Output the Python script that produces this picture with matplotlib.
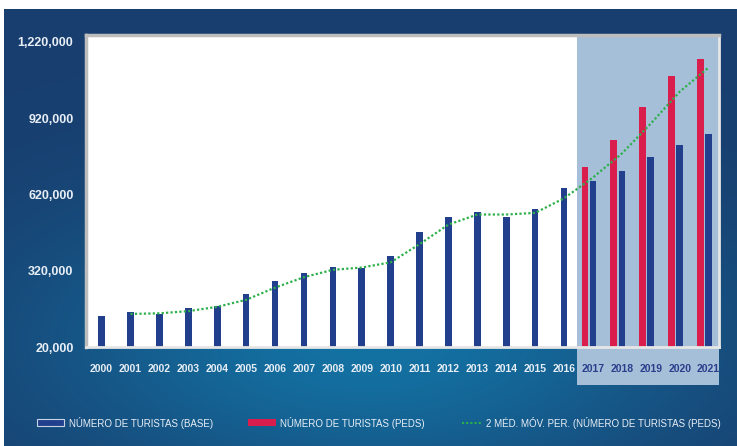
import numpy as np
import pandas as pd
import matplotlib
matplotlib.use("Agg")
import matplotlib.pyplot as plt
from matplotlib.patches import Rectangle
from matplotlib.lines import Line2D
import matplotlib.transforms as mtransforms

years = list(range(2000, 2022))
base = [143000, 157000, 148000, 174000, 182000, 229000, 278000, 311000, 336000, 329000,
        377000, 472000, 531000, 551000, 531000, 564000, 646000,
        672000, 714000, 766000, 816000, 858000]
peds_future_years = [2017, 2018, 2019, 2020, 2021]
peds_future = [727000, 835000, 962000, 1086000, 1152000]
y_ticks = [20000, 320000, 620000, 920000, 1220000]
legend_labels = ["NÚMERO DE TURISTAS (BASE)", "NÚMERO DE TURISTAS (PEDS)",
                 "2 MÉD. MÓV. PER. (NÚMERO DE TURISTAS (PEDS)"]

FONT = ["Liberation Sans", "DejaVu Sans"]
plt.rcParams["font.family"] = FONT

W, H = 737, 446
fig = plt.figure(figsize=(W / 100, H / 100), dpi=100)
fig.patch.set_facecolor("white")

# background gradient
bg = fig.add_axes([4 / W, 0, 1 - 4 / W, (H - 9) / H], zorder=-10)
nx, ny = 300, 200
xx, yy = np.meshgrid(np.linspace(0, 1, nx), np.linspace(0, 1, ny))
fx = np.exp(-((xx - 0.5) / 0.45) ** 2)
fy = np.exp(-((yy - 0.76) / 0.34) ** 2)
f = (fx * fy)[..., None]
navy = np.array([0x18, 0x3e, 0x6e]) / 255
teal = np.array([0x13, 0x72, 0xa3]) / 255
img = navy + (teal - navy) * f
bg.imshow(img, aspect="auto", extent=[0, 1, 0, 1], origin="upper")
bg.set_axis_off()

# main axes
x0, x1 = 86, 719
ytop, ybot = 35, 347
ax = fig.add_axes([x0 / W, (H - ybot) / H, (x1 - x0) / W, (ybot - ytop) / H])
ax.set_facecolor("white")

idx = np.arange(len(years))
xmin, xmax = -0.54, 21.36
ax.set_xlim(xmin, xmax)
ax.set_ylim(20000, 1247000)

# shaded forecast region (extends below axis over tick labels)
trans = mtransforms.blended_transform_factory(ax.transData, ax.transAxes)
ax.add_patch(Rectangle((16.46, -0.122), xmax - 16.46, 1.122, transform=trans,
                       facecolor="#a6bfd8", edgecolor="none", clip_on=False, zorder=0.5))

bw = 0.23
fut_idx = np.array([years.index(y) for y in peds_future_years])
ax.bar(idx, np.array(base) - 20000, bottom=20000, width=bw, color="#213f8d", zorder=2)
ax.bar(fut_idx - 0.28, np.array(peds_future) - 20000, bottom=20000, width=bw,
       color="#d91e4d", zorder=2)

# 2-period moving average of PEDS series
peds_series = pd.Series(base, index=years, dtype=float)
peds_series.loc[peds_future_years] = peds_future
ma = peds_series.rolling(2).mean()
ax.plot(idx[1:], ma.values[1:], color="#2db04b", lw=1.6, ls=(0, (1, 1)), zorder=3)

ax.set_yticks(y_ticks)
ax.set_yticklabels([f"{v:,}" for v in y_ticks], fontweight="bold")
ax.set_xticks(idx)
ax.set_xticklabels([str(y) for y in years], fontweight="bold")
ax.tick_params(axis="y", length=0, pad=9, labelsize=9, labelcolor="#e8eef6")
ax.tick_params(axis="x", length=0, pad=12, labelsize=7.5, labelcolor="#e8eef6")
for lab, y in zip(ax.get_xticklabels(), years):
    if y >= 2017:
        lab.set_color("#2a3f8c")

for s in ["left", "top"]:
    ax.spines[s].set_color("#bdbdbd")
    ax.spines[s].set_linewidth(2.5)
for s in ["right", "bottom"]:
    ax.spines[s].set_color("#e6e6e6")
    ax.spines[s].set_linewidth(2)

# legend (manual placement)
ly = (H - 423) / H
fs = 7
fig.patches.append(Rectangle((37 / W, (H - 426) / H), 27 / W, 7 / H, transform=fig.transFigure,
                             facecolor="#213f8d", edgecolor="#c9d3e6", lw=0.8))
fig.text(69 / W, ly, legend_labels[0], color="#e8eef6", fontsize=fs, va="center", ha="left")
fig.patches.append(Rectangle((248 / W, (H - 426) / H), 28 / W, 7 / H, transform=fig.transFigure,
                             facecolor="#d91e4d", edgecolor="none"))
fig.text(280 / W, ly, legend_labels[1], color="#e8eef6", fontsize=fs, va="center", ha="left")
fig.lines.append(Line2D([462 / W, 481 / W], [ly, ly], transform=fig.transFigure,
                        color="#2db04b", lw=1.5, ls=(0, (1, 1))))
fig.text(486 / W, ly, legend_labels[2], color="#e8eef6", fontsize=fs, va="center", ha="left")

fig.savefig("out.png", dpi=100)
